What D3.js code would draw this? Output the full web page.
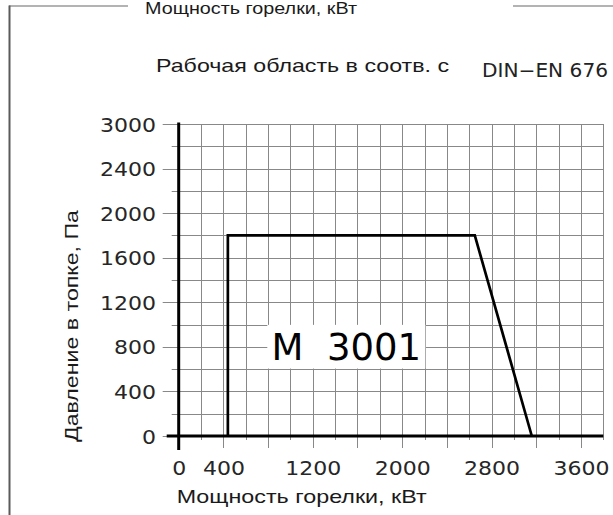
<!DOCTYPE html>
<html><head><meta charset="utf-8">
<script src="https://cdn.jsdelivr.net/npm/d3@7"></script>
<style>html,body{margin:0;padding:0;background:#fff;overflow:hidden;} svg{display:block;}</style>
</head><body>
<svg id="c" width="613" height="515"></svg>
<script>
// ---- data ----
const xTickValues = [0, 400, 1200, 2000, 2800, 3600];
const xTickLabels = ["0", "400", "1200", "2000", "2800", "3600"];
const yTickValues = [0, 400, 800, 1200, 1600, 2000, 2400, 2800];
const yTickLabels = ["0", "400", "800", "1200", "1600", "2000", "2400", "3000"];
const envelopePower = [440, 440, 2650, 3160];       // кВт
const envelopePressure = [0, 1800, 1800, 0];         // Па
const modelLabel = "M\u00a0\u00a03001";
const topTitle = "Мощность горелки, кВт";
const subtitle = "Рабочая область в соотв. с";
const standard = "DIN\u2212EN 676";
const xTitle = "Мощность горелки, кВт";
const yTitle = "Давление в топке, Па";

// ---- layout ----
const svg = d3.select("#c");
const x = d3.scaleLinear().domain([0, 3800]).range([178.7, 603.3]);
const y = d3.scaleLinear().domain([0, 2800]).range([436, 124]);
const SANS = "'Liberation Sans', Arial, sans-serif";
const DJ = "'DejaVu Sans', sans-serif";

// group-box frame
svg.append("line").attr("x1", 9).attr("x2", 128).attr("y1", 6).attr("y2", 6)
  .attr("stroke", "#9a9a9a").attr("stroke-width", 1.5);
svg.append("line").attr("x1", 513).attr("x2", 613).attr("y1", 6).attr("y2", 6)
  .attr("stroke", "#9a9a9a").attr("stroke-width", 1.5);
svg.append("line").attr("x1", 9.5).attr("x2", 9.5).attr("y1", 5.5).attr("y2", 515)
  .attr("stroke", "#5a5a5a").attr("stroke-width", 2);

function txt(s, px, py, size, len, fam, anchor) {
  return svg.append("text").attr("x", px).attr("y", py)
    .attr("font-family", fam || SANS).attr("font-size", size)
    .attr("fill", "#1a1a1a").attr("text-anchor", anchor || "start")
    .attr("textLength", len).attr("lengthAdjust", "spacingAndGlyphs").text(s);
}
txt(topTitle, 145, 13.5, 16.5, 212);
txt(subtitle, 156, 71.7, 19, 293);
txt(standard, 482, 77.3, 19, 126, DJ).attr("fill", "#222");

// grid
const xs = d3.range(0, 3801, 200);
const ys = d3.range(0, 2801, 200);
const grid = svg.append("g").attr("stroke", "#888").attr("stroke-width", 1);
grid.selectAll("line.v").data(xs).join("line").attr("class", "v")
  .attr("x1", d => Math.round(x(d)) + 0.5).attr("x2", d => Math.round(x(d)) + 0.5)
  .attr("y1", y(2800)).attr("y2", d => y(0) + (d % 400 === 0 ? 12 : 4));
grid.selectAll("line.h").data(ys).join("line").attr("class", "h")
  .attr("y1", d => Math.round(y(d)) + 0.5).attr("y2", d => Math.round(y(d)) + 0.5)
  .attr("x1", d => x(0) - (d % 400 === 0 ? 16 : 7)).attr("x2", x(3800));

// axis lines
svg.append("line").attr("x1", x(0) - 12).attr("x2", x(3800)).attr("y1", y(0)).attr("y2", y(0))
  .attr("stroke", "#000").attr("stroke-width", 3);
svg.append("line").attr("x1", x(0)).attr("x2", x(0)).attr("y1", y(2800) - 1.5).attr("y2", y(0) + 14)
  .attr("stroke", "#000").attr("stroke-width", 3);

// tick labels
const yAx = svg.append("g").attr("transform", `translate(${x(0)},1)`)
  .call(d3.axisLeft(y).tickValues(yTickValues).tickFormat((d, i) => yTickLabels[i]).tickSize(0).tickPadding(22.7));
yAx.select(".domain").remove();
yAx.attr("font-family", DJ).attr("font-size", 19);
yAx.selectAll("text").attr("fill", "#262626")
  .attr("textLength", d => yTickLabels[yTickValues.indexOf(d)].length * 14)
  .attr("lengthAdjust", "spacingAndGlyphs");

const xAx = svg.append("g").attr("transform", `translate(0,${y(0)})`)
  .call(d3.axisBottom(x).tickValues(xTickValues).tickFormat((d, i) => xTickLabels[i]).tickSize(0).tickPadding(25.5));
xAx.select(".domain").remove();
xAx.attr("font-family", DJ).attr("font-size", 19);
xAx.selectAll("text").attr("fill", "#262626")
  .attr("textLength", d => xTickLabels[xTickValues.indexOf(d)].length * 14)
  .attr("lengthAdjust", "spacingAndGlyphs");

// envelope
const pts = envelopePower.map((p, i) => [p, envelopePressure[i]]);
svg.append("path").datum(pts)
  .attr("d", d3.line().x(d => x(d[0])).y(d => y(d[1])))
  .attr("fill", "none").attr("stroke", "#000").attr("stroke-width", 2.7)
  .attr("stroke-linejoin", "miter");

// model label with white box
const lx = x(1500), ly = y(800);
svg.append("rect").attr("x", lx - 79).attr("y", ly - 22).attr("width", 158).attr("height", 43.7)
  .attr("fill", "#fff");
svg.append("text").attr("x", lx).attr("y", ly + 13.5)
  .attr("text-anchor", "middle").attr("font-family", DJ).attr("font-size", 37)
  .attr("fill", "#000").text(modelLabel);

// axis titles
txt(xTitle, 176.7, 503.3, 19, 250);
svg.append("text").attr("transform", `translate(78,326) rotate(-90)`)
  .attr("text-anchor", "middle").attr("font-family", SANS).attr("font-size", 19)
  .attr("fill", "#1a1a1a").attr("textLength", 232).attr("lengthAdjust", "spacingAndGlyphs")
  .text(yTitle);
</script>
</body></html>
